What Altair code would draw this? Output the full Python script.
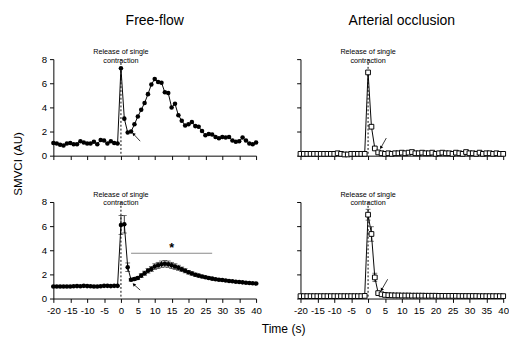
import altair as alt
import pandas as pd

FONT = "Liberation Sans"

# ---------------- data ----------------
time_s = list(range(-20, 41))
x_ticks = [-20, -15, -10, -5, 0, 5, 10, 15, 20, 25, 30, 35, 40]
y_ticks = [0, 2, 4, 6, 8]
release_time = [0]

# Free-flow, single contraction (top left)
ff_single = [1.05, 1.0, 0.9, 0.85, 1.0, 1.05, 0.95, 0.95, 1.2, 1.1,
             1.0, 1.0, 1.15, 0.95, 1.3, 1.25, 1.0, 1.2, 1.05, 1.0,
             7.25, 3.07, 1.92, 2.0, 2.6, 3.25, 3.8, 4.37, 5.1, 5.9,
             6.35, 6.1, 6.05, 5.25, 5.2, 4.0, 4.3, 3.35, 2.9, 2.5,
             2.6, 2.8, 2.45, 2.4, 2.05, 1.7, 1.8, 1.75, 1.55, 1.45,
             1.55, 1.5, 1.55, 1.25, 1.15, 1.2, 1.5, 1.25, 1.0, 0.95,
             1.1]

# Arterial occlusion, single contraction (top right)
ao_single = [0.15, 0.15, 0.15, 0.15, 0.15, 0.15, 0.15, 0.15, 0.15, 0.15,
             0.15, 0.2, 0.15, 0.1, 0.1, 0.15, 0.15, 0.15, 0.15, 0.15,
             6.9, 2.4, 0.6, 0.27, 0.2, 0.15, 0.2, 0.15, 0.2, 0.2,
             0.25, 0.2, 0.25, 0.3, 0.2, 0.2, 0.25, 0.2, 0.2, 0.25,
             0.15, 0.2, 0.25, 0.2, 0.2, 0.15, 0.25, 0.2, 0.15, 0.3,
             0.2, 0.2, 0.15, 0.25, 0.15, 0.2, 0.2, 0.15, 0.2, 0.15,
             0.15]

# Free-flow, group mean +/- SEM (bottom left)
ff_mean = [1.0, 1.0, 1.0, 1.0, 1.0, 1.0, 1.02, 1.03, 1.02, 1.05,
           1.03, 1.02, 1.0, 1.0, 1.02, 1.05, 1.05, 1.03, 1.05, 1.05,
           6.1, 6.15, 2.6, 1.55, 1.62, 1.7, 1.9, 2.1, 2.3, 2.45,
           2.65, 2.75, 2.85, 2.88, 2.85, 2.75, 2.65, 2.55, 2.42, 2.3,
           2.18, 2.08, 1.98, 1.9, 1.83, 1.76, 1.7, 1.65, 1.6, 1.56,
           1.53, 1.5, 1.46, 1.43, 1.4, 1.37, 1.34, 1.31, 1.28, 1.26,
           1.24]
ff_sem = [0.04, 0.04, 0.04, 0.04, 0.04, 0.04, 0.04, 0.04, 0.04, 0.04,
          0.04, 0.04, 0.04, 0.04, 0.04, 0.04, 0.04, 0.04, 0.04, 0.04,
          0.78, 0.72, 0.35, 0.1, 0.12, 0.13, 0.15, 0.17, 0.19, 0.21,
          0.23, 0.25, 0.26, 0.27, 0.26, 0.25, 0.23, 0.21, 0.19, 0.17,
          0.15, 0.14, 0.13, 0.12, 0.11, 0.1, 0.09, 0.09, 0.08, 0.08,
          0.07, 0.07, 0.06, 0.06, 0.06, 0.05, 0.05, 0.05, 0.05, 0.05,
          0.05]

# Arterial occlusion, group mean +/- SEM (bottom right)
ao_mean = [0.2, 0.2, 0.2, 0.2, 0.2, 0.2, 0.2, 0.2, 0.2, 0.2,
           0.2, 0.2, 0.2, 0.2, 0.2, 0.2, 0.2, 0.2, 0.2, 0.22,
           6.95, 5.35, 1.75, 0.45, 0.35, 0.3, 0.28, 0.27, 0.26, 0.26,
           0.25, 0.25, 0.25, 0.24, 0.24, 0.24, 0.24, 0.23, 0.23, 0.23,
           0.23, 0.22, 0.22, 0.22, 0.22, 0.22, 0.22, 0.21, 0.21, 0.21,
           0.21, 0.21, 0.21, 0.2, 0.2, 0.2, 0.2, 0.2, 0.2, 0.2,
           0.2]
ao_sem = [0.02, 0.02, 0.02, 0.02, 0.02, 0.02, 0.02, 0.02, 0.02, 0.02,
          0.02, 0.02, 0.02, 0.02, 0.02, 0.02, 0.02, 0.02, 0.02, 0.02,
          0.45, 0.6, 0.35, 0.08, 0.05, 0.03, 0.03, 0.03, 0.03, 0.03,
          0.03, 0.03, 0.03, 0.03, 0.03, 0.03, 0.03, 0.03, 0.03, 0.03,
          0.03, 0.03, 0.03, 0.03, 0.03, 0.03, 0.03, 0.03, 0.03, 0.03,
          0.03, 0.03, 0.03, 0.03, 0.03, 0.03, 0.03, 0.03, 0.03, 0.03,
          0.03]

# arrows: tail (x, y) -> head (x2, y2), head angle (deg)
arrow_tl = {"x": [5.7], "y": [1.2], "x2": [3.7], "y2": [1.8], "ang": [315]}
arrow_tr = {"x": [5.4], "y": [1.46], "x2": [3.8], "y2": [0.66], "ang": [210]}
arrow_bl = {"x": [5.7], "y": [0.7], "x2": [3.8], "y2": [1.17], "ang": [315]}
arrow_br = {"x": [5.8], "y": [1.6], "x2": [4.0], "y2": [0.72], "ang": [210]}

# significance bar
sig_bar = {"x": [3], "x2": [27], "y": [3.75]}
sig_star = {"x": [15], "y": [4.2], "label": ["*"]}

W, H = 210, 100

xscale = alt.Scale(domain=[-20, 40], nice=False, zero=False)
yscale = alt.Scale(domain=[0, 8], nice=False, zero=True)


def frame(values, sem=None):
    d = {"t": time_s, "v": values}
    if sem is not None:
        d["lo"] = [v - s for v, s in zip(values, sem)]
        d["hi"] = [v + s for v, s in zip(values, sem)]
    return pd.DataFrame(d)


def panel(values, sem, square, xlabels, ylabels, heading=None, arrow=None,
          y_title=False, x_title=False, star=False):
    df = frame(values, sem)
    common_x = dict(values=x_ticks, labels=xlabels, labelOverlap=False,
                    labelExpr="datum.value + ''", labelFlush=False)
    if x_title:
        xaxis = alt.Axis(title="Time (s)",
                         titleX=-18, titleY=25, titleAlign="center",
                         titleBaseline="top", titleFontSize=12.5,
                         titleFontWeight="normal", titleAngle=0, **common_x)
    else:
        xaxis = alt.Axis(title=None, **common_x)
    if y_title:
        yaxis = alt.Axis(values=y_ticks, labels=ylabels, title="SMVCI (AU)",
                         titleX=-37, titleY=-40, titleAlign="center",
                         titleBaseline="middle", titleFontSize=12,
                         titleFontWeight="normal", titleAngle=270)
    else:
        yaxis = alt.Axis(values=y_ticks, labels=ylabels, title=None)

    X = alt.X("t:Q", scale=xscale, axis=xaxis)
    Y = alt.Y("v:Q", scale=yscale, axis=yaxis)
    base = alt.Chart(df)
    layers = []

    rel = alt.Chart(pd.DataFrame({"t": release_time})).mark_rule(
        color="black", strokeWidth=1, strokeDash=[2, 2]).encode(x=X)
    layers.append(rel)

    if sem is not None:
        bars = base.mark_rule(color="black", strokeWidth=0.8).encode(
            x=X, y=alt.Y("lo:Q", scale=yscale, axis=yaxis), y2="hi:Q")
        cap_hi = base.mark_tick(color="black", orient="horizontal", size=5,
                                thickness=0.8).encode(
            x=X, y=alt.Y("hi:Q", scale=yscale, axis=yaxis))
        cap_lo = base.mark_tick(color="black", orient="horizontal", size=5,
                                thickness=0.8).encode(
            x=X, y=alt.Y("lo:Q", scale=yscale, axis=yaxis))
        layers += [bars, cap_hi, cap_lo]

    line = base.mark_line(color="black", strokeWidth=1).encode(x=X, y=Y)
    layers.append(line)
    if square:
        pts = base.mark_point(shape="square", size=24, filled=True,
                              fill="white", stroke="black", strokeWidth=1,
                              opacity=1).encode(x=X, y=Y)
    else:
        pts = base.mark_point(shape="circle", size=22, filled=True,
                              color="black", opacity=1).encode(x=X, y=Y)
    layers.append(pts)

    if star:
        sb = alt.Chart(pd.DataFrame(sig_bar)).mark_rule(
            color="#8a8a8a", strokeWidth=1.2).encode(
            x=alt.X("x:Q", scale=xscale, axis=xaxis), x2="x2:Q",
            y=alt.Y("y:Q", scale=yscale, axis=yaxis))
        st = alt.Chart(pd.DataFrame(sig_star)).mark_text(
            font=FONT, fontSize=13, fontWeight="bold", color="black",
            baseline="middle").encode(
            x=alt.X("x:Q", scale=xscale, axis=xaxis),
            y=alt.Y("y:Q", scale=yscale, axis=yaxis), text="label:N")
        layers += [sb, st]

    if arrow is not None:
        adf = pd.DataFrame(arrow)
        ar = alt.Chart(adf).mark_rule(color="black", strokeWidth=0.8).encode(
            x=alt.X("x:Q", scale=xscale, axis=xaxis), x2="x2:Q",
            y=alt.Y("y:Q", scale=yscale, axis=yaxis), y2="y2:Q")
        head = alt.Chart(adf).mark_point(shape="triangle-up", filled=True,
                                         color="black", size=14,
                                         opacity=1).encode(
            x=alt.X("x2:Q", scale=xscale, axis=xaxis),
            y=alt.Y("y2:Q", scale=yscale, axis=yaxis),
            angle=alt.Angle("ang:Q", scale=None))
        layers += [ar, head]

    one = pd.DataFrame({"t": release_time})
    rtext = alt.Chart(one).mark_text(
        text=["Release of single", "contraction"], font=FONT, fontSize=7.5,
        lineHeight=8.5, baseline="bottom", align="center",
        color="black").encode(x=alt.X("t:Q", scale=xscale, axis=xaxis),
                              y=alt.value(-3))
    layers.append(rtext)

    if heading:
        ht = alt.Chart(one).mark_text(
            text=heading, font=FONT, fontSize=14.5, baseline="middle",
            align="center", color="black").encode(
            x=alt.value(W / 2), y=alt.value(-39))
        layers.append(ht)

    return alt.layer(*layers).properties(width=W, height=H)


tl = panel(ff_single, None, False, False, True, heading="Free-flow",
           arrow=arrow_tl)
tr = panel(ao_single, None, True, False, False, heading="Arterial occlusion",
           arrow=arrow_tr)
bl = panel(ff_mean, ff_sem, False, True, True, arrow=arrow_bl,
           y_title=True, star=True)
br = panel(ao_mean, ao_sem, True, True, False, arrow=arrow_br, x_title=True)

chart = alt.concat(tl, tr, bl, br, columns=2,
                   spacing={"row": 48, "column": 46},
                   bounds="flush").properties(
    padding={"left": 3, "top": 0, "right": 0, "bottom": 0},
    background="white",
).configure_view(stroke=None).configure_axis(
    domainColor="black", tickColor="black", labelColor="black",
    labelFont=FONT, labelFontSize=10, titleFont=FONT, titleColor="black",
    tickSize=4, labelPadding=3, grid=False, domainWidth=1, tickWidth=1,
)

chart.save("out.html", embed_options={"renderer": "svg", "actions": False})
